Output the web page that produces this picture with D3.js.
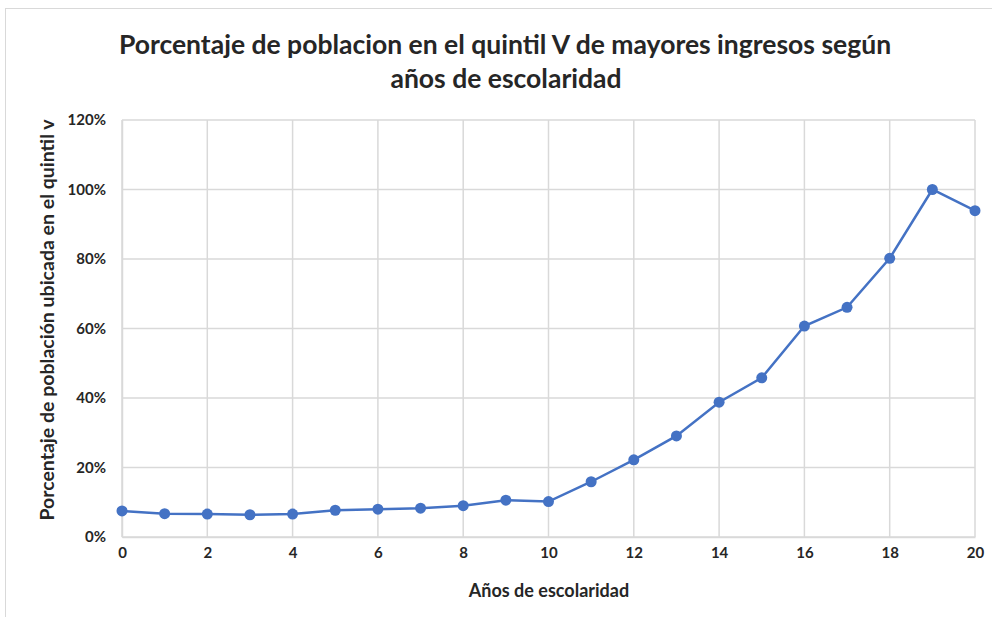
<!DOCTYPE html>
<html>
<head>
<meta charset="utf-8">
<script src="https://cdn.jsdelivr.net/npm/d3@7"></script>
<style>
  body { margin: 0; background: #fff; }
  text { font-family: Lato, "Open Sans", sans-serif; fill: #262626; }
</style>
</head>
<body>
<script>
var years   = d3.range(0, 21),
    pct     = [7.5, 6.7, 6.6, 6.4, 6.6, 7.7, 8.0, 8.3, 9.0, 10.6, 10.2, 15.9, 22.2, 29.1, 38.8, 45.8, 60.7, 66.1, 80.2, 100, 93.9],
    xTicks  = [0, 2, 4, 6, 8, 10, 12, 14, 16, 18, 20],
    yTicks  = [0, 20, 40, 60, 80, 100, 120];

var width   = 992,
    height  = 617,
    mLeft   = 122,
    mRight  = 975,
    mTop    = 120,
    mBottom = 537;

var svg = d3.select('body').append('svg')
    .attr('width', width)
    .attr('height', height);

// chart border
svg.append('rect')
    .attr('x', 5.5).attr('y', 8.5)
    .attr('width', width).attr('height', height)
    .attr('fill', 'none')
    .attr('stroke', '#d9d9d9');

var x = d3.scaleLinear().domain([0, 20]).range([mLeft, mRight]),
    y = d3.scaleLinear().domain([0, 120]).range([mBottom, mTop]);

// grid
svg.append('g').selectAll('line')
    .data(yTicks).enter().append('line')
    .attr('x1', mLeft).attr('x2', mRight)
    .attr('y1', y).attr('y2', y)
    .attr('stroke', '#d9d9d9').attr('stroke-width', 1.5);

svg.append('g').selectAll('line')
    .data(xTicks).enter().append('line')
    .attr('x1', x).attr('x2', x)
    .attr('y1', mTop).attr('y2', mBottom)
    .attr('stroke', '#d9d9d9').attr('stroke-width', 1.5);

// axes
var xAxis = svg.append('g')
    .attr('transform', 'translate(0,' + mBottom + ')')
    .call(d3.axisBottom(x).tickValues(xTicks).tickSize(0).tickPadding(10));
xAxis.select('.domain').attr('stroke', '#d9d9d9').attr('stroke-width', 1.5);
xAxis.selectAll('text').style('font-size', '15px').style('font-weight', 'bold').attr('fill', '#262626');

var yAxis = svg.append('g')
    .attr('transform', 'translate(' + mLeft + ',0)')
    .call(d3.axisLeft(y).tickValues(yTicks).tickSize(0).tickPadding(16).tickFormat(function (d) { return d + '%'; }));
yAxis.select('.domain').attr('stroke', '#d9d9d9').attr('stroke-width', 1.5);
yAxis.selectAll('text').style('font-size', '15px').style('font-weight', 'bold').attr('fill', '#262626');

// line + markers
var line = d3.line()
    .x(function (d, i) { return x(years[i]); })
    .y(function (d) { return y(d); });

svg.append('path')
    .datum(pct)
    .attr('d', line)
    .attr('fill', 'none')
    .attr('stroke', '#4472c4')
    .attr('stroke-width', 2.5);

svg.append('g').selectAll('circle')
    .data(pct).enter().append('circle')
    .attr('cx', function (d, i) { return x(years[i]); })
    .attr('cy', y)
    .attr('r', 5.5)
    .attr('fill', '#4472c4');

// titles
svg.append('text')
    .attr('x', 505).attr('y', 54)
    .attr('text-anchor', 'middle')
    .style('font-size', '26.5px').style('font-weight', 'bold')
    .text('Porcentaje de poblacion en el quintil V de mayores ingresos según');
svg.append('text')
    .attr('x', 506).attr('y', 88)
    .attr('text-anchor', 'middle')
    .style('font-size', '26.5px').style('font-weight', 'bold')
    .text('años de escolaridad');

svg.append('text')
    .attr('x', 549).attr('y', 597)
    .attr('text-anchor', 'middle')
    .style('font-size', '18px').style('font-weight', 'bold')
    .text('Años de escolaridad');

svg.append('text')
    .attr('transform', 'translate(54,320) rotate(-90)')
    .attr('text-anchor', 'middle')
    .style('font-size', '19.5px').style('font-weight', 'bold')
    .text('Porcentaje de población ubicada en el quintil v');
</script>
</body>
</html>
